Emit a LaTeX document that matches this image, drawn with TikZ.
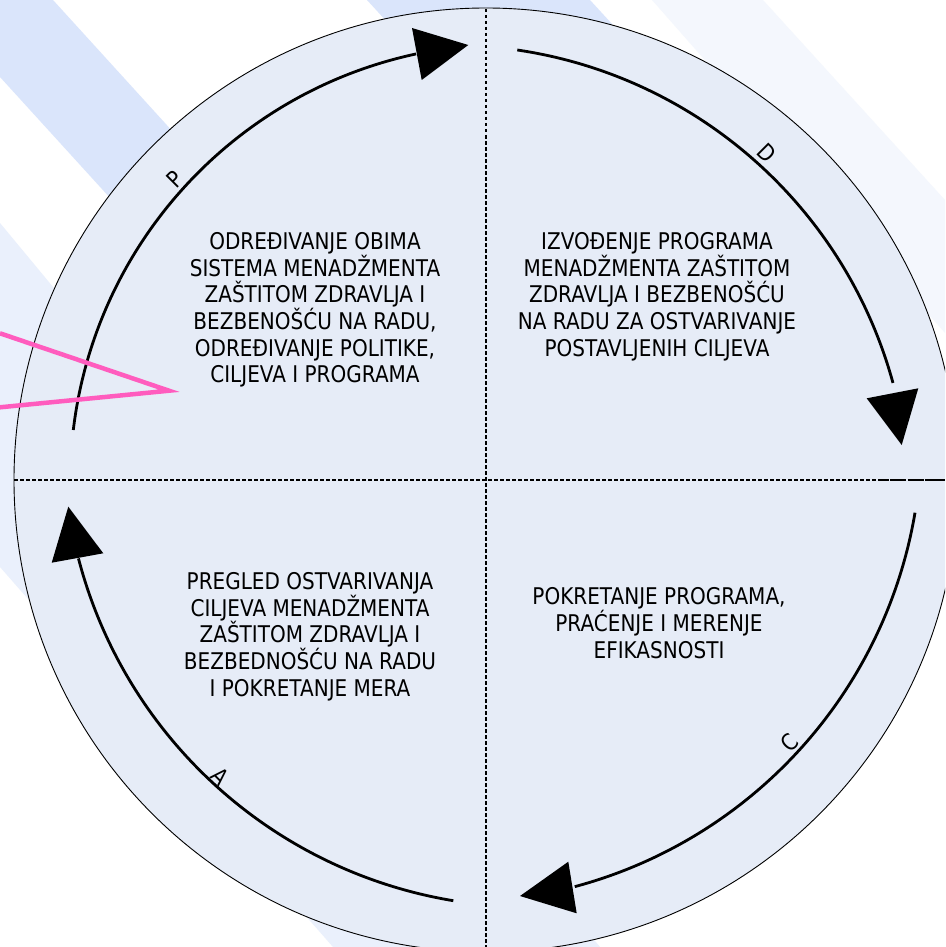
\documentclass[tikz,border=0pt]{standalone}
\usepackage{fontspec}
\setmainfont{DejaVu Sans}[FakeStretch=0.87]
\definecolor{bandblue}{RGB}{218,229,251}
\definecolor{lightband}{RGB}{234,240,252}
\definecolor{faintband}{RGB}{244,247,253}
\definecolor{circfill}{RGB}{230,236,247}
\definecolor{pinkline}{RGB}{255,92,190}
\begin{document}
\begin{tikzpicture}[x=1pt,y=-1pt,
  divider/.style={line width=2.2pt, dash pattern=on 3.5pt off 2.5pt},
  cyclearc/.style={line width=2.8pt},
  arrowtri/.style={fill=black},
  quadtext/.style={align=center, inner sep=0pt, font=\fontsize{23}{26.7}\selectfont},
  phaselabel/.style={inner sep=0pt, font=\fontsize{23}{25}\selectfont}]
\useasboundingbox (0,0) rectangle (945,947);
\clip (0,0) rectangle (945,947);
\fill[white] (0,0) rectangle (945,947);
% background stripes
\fill[bandblue] (0,0) -- (53,0) -- (326,300) -- (203,300) -- (0,77) -- cycle;
\fill[bandblue] (367,0) -- (590,0) -- (700,120) -- (477,120) -- cycle;
\fill[lightband] (0,223) -- (600,947) -- (333,947) -- (0,567) -- cycle;
\fill[faintband] (652,0) -- (763,0) -- (945,200) -- (945,333) -- cycle;
% main circle
\draw[fill=circfill, line width=0.9pt] (486,480) circle[radius=472];
% dividers
\draw[divider] (14,480) -- (945,480);
\draw[line width=2.2pt, dash pattern=on 7pt off 1.5pt] (882,480) -- (945,480);
\draw[divider] (486,9) -- (486,947);
% cycle arcs
\draw[cyclearc] (73.3,430) arc[start angle=186.8, end angle=257.9, radius=437.6];
\draw[cyclearc] (517.3,50) arc[start angle=-81.6, end angle=-15.3, radius=459];
\draw[cyclearc] (915,512.7) arc[start angle=9.6, end angle=75.0, radius=467.9];
\draw[cyclearc] (453.3,900.7) arc[start angle=99.4, end angle=165.4, radius=466];
% arrow heads
\fill[arrowtri] (412,28) -- (468.3,45) -- (421.7,80) -- cycle;
\fill[arrowtri] (866.7,398.3) -- (918.3,388.3) -- (901.7,445) -- cycle;
\fill[arrowtri] (568.3,861.7) -- (520,896) -- (576.7,913.3) -- cycle;
\fill[arrowtri] (68.3,506.7) -- (103.3,553.3) -- (51.7,562.7) -- cycle;
% phase labels
\node[phaselabel, rotate=45] (lp) at (175,179) {P};
\node[phaselabel, rotate=-45] (ld) at (766.7,153.3) {D};
\node[phaselabel, rotate=45] (lc) at (790,742.3) {C};
\node[phaselabel, rotate=-45] (la) at (220,776.7) {A};
% quadrant texts
\node[quadtext] (plan) at (315,310) {ODREĐIVANJE OBIMA\\SISTEMA MENADŽMENTA\\ZAŠTITOM ZDRAVLJA I\\BEZBENOŠĆU NA RADU,\\ODREĐIVANJE POLITIKE,\\CILJEVA I PROGRAMA};
\node[quadtext] (do) at (657,296.7) {IZVOĐENJE PROGRAMA\\MENADŽMENTA ZAŠTITOM\\ZDRAVLJA I BEZBENOŠĆU\\NA RADU ZA OSTVARIVANJE\\POSTAVLJENIH CILJEVA};
\node[quadtext] (act) at (310,636.7) {PREGLED OSTVARIVANJA\\CILJEVA MENADŽMENTA\\ZAŠTITOM ZDRAVLJA I\\BEZBEDNOŠĆU NA RADU\\I POKRETANJE MERA};
\node[quadtext] (check) at (659,623.3) {POKRETANJE PROGRAMA,\\PRAĆENJE I MERENJE\\EFIKASNOSTI};
% pink callout lines
\draw[pinkline, line width=4.5pt, line join=miter] (0,333.3) -- (169,390.7) -- (0,407.3);
\end{tikzpicture}
\end{document}
